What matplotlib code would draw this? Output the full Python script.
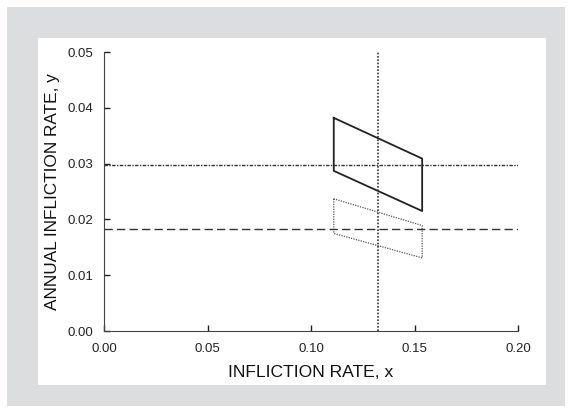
import matplotlib
matplotlib.use("Agg")
from matplotlib import pyplot as plt
from matplotlib.patches import Rectangle

plt.rcParams['font.family'] = ['Liberation Sans', 'DejaVu Sans']

# parallelogram corners (x, y), drawn closed
solid_x = [0.111, 0.111, 0.1537, 0.1537, 0.111]
solid_y = [0.0382, 0.0287, 0.0215, 0.0309, 0.0382]
dotted_x = [0.111, 0.111, 0.1537, 0.1537, 0.111]
dotted_y = [0.0237, 0.0175, 0.0131, 0.0189, 0.0237]

x_vline = 0.1323
y_dashdot = 0.0297
y_dashed = 0.0182

x_ticks = [0.00, 0.05, 0.10, 0.15, 0.20]
y_ticks = [0.00, 0.01, 0.02, 0.03, 0.04, 0.05]

fig = plt.figure(figsize=(5.73, 4.13), dpi=100)
# grey frame and white panel behind the axes
fig.patches.append(Rectangle((7/573, 7/413), 558/573, 399/413, transform=fig.transFigure,
                             facecolor='#dcdddf', edgecolor='none', zorder=-2))
fig.patches.append(Rectangle((38/573, 28/413), 508/573, 347/413, transform=fig.transFigure,
                             facecolor='white', edgecolor='none', zorder=-1))

ax = fig.add_axes([104/573, (413-331)/413, 414/573, 279/413])
ax.patch.set_alpha(0)

ax.plot(solid_x, solid_y, color='#222222', lw=1.3)
ax.plot(dotted_x, dotted_y, color='#555555', lw=0.9, linestyle=(0, (1, 1)))
ax.axhline(y_dashdot, color='#333333', lw=1.0, linestyle=(0, (2.5, 1, 1, 1)))
ax.axhline(y_dashed, color='#333333', lw=1.0, linestyle=(0, (6, 3)))
ax.plot([x_vline, x_vline], [0, 0.05], color='#333333', lw=1.2, linestyle=(0, (1, 1)))

ax.set_xlim(0, 0.20)
ax.set_ylim(0, 0.05)
ax.set_xticks(x_ticks)
ax.set_yticks(y_ticks)
ax.set_xticklabels(['%.2f' % v for v in x_ticks])
ax.set_yticklabels(['%.2f' % v for v in y_ticks])
ax.tick_params(direction='in', length=4, width=1, labelsize=9.5, colors='#222222')
ax.tick_params(axis='x', pad=9)
ax.tick_params(axis='y', pad=8)
ax.spines['top'].set_visible(False)
ax.spines['right'].set_visible(False)
for s in ['left', 'bottom']:
    ax.spines[s].set_color('#444444')
ax.set_xlabel("INFLICTION RATE, x", fontsize=12.6, color='#111111', labelpad=7)
ax.set_ylabel("ANNUAL INFLICTION RATE, y", fontsize=12.4, color='#111111', labelpad=5)

fig.savefig("out.png", dpi=100)
